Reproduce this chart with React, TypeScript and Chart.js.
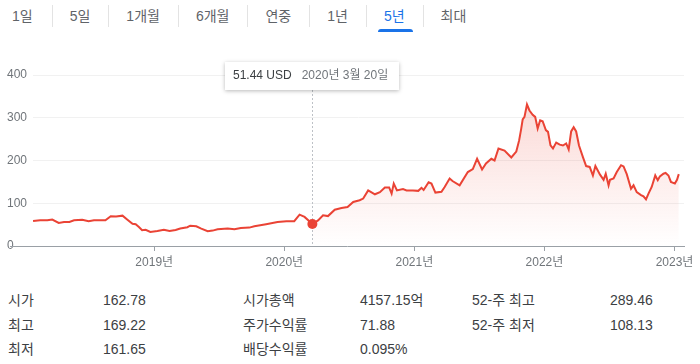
import React, { useEffect, useRef } from "react";
import { Chart, registerables } from "chart.js";

Chart.register(...registerables);

const FONT = "'Liberation Sans', Arial, 'Noto Sans CJK KR', sans-serif";

const tabs = ["1일", "5일", "1개월", "6개월", "연중", "1년", "5년", "최대"];
const activeTab = "5년";

const dates = [
  "2018-01-26", "2018-02-15", "2018-03-07", "2018-03-21", "2018-04-08", "2018-04-23", "2018-05-08", "2018-05-21",
  "2018-06-13", "2018-07-01", "2018-07-16", "2018-07-31", "2018-08-17", "2018-09-01", "2018-09-16", "2018-10-04",
  "2018-10-17", "2018-11-01", "2018-11-10", "2018-11-19", "2018-11-28", "2018-12-08", "2018-12-21", "2019-01-10",
  "2019-01-28", "2019-02-13", "2019-03-02", "2019-03-15", "2019-04-04", "2019-04-12", "2019-04-29", "2019-05-13",
  "2019-05-31", "2019-06-14", "2019-06-28", "2019-07-26", "2019-08-14", "2019-09-01", "2019-09-25", "2019-10-09",
  "2019-11-11", "2019-12-13", "2020-01-07", "2020-01-29", "2020-02-13", "2020-02-27", "2020-03-20", "2020-04-05",
  "2020-04-19", "2020-05-03", "2020-05-22", "2020-06-10", "2020-06-27", "2020-07-13", "2020-07-31", "2020-08-10",
  "2020-08-24", "2020-09-12", "2020-09-26", "2020-10-10", "2020-10-22", "2020-10-29", "2020-11-04", "2020-11-13",
  "2020-11-30", "2020-12-10", "2020-12-28", "2021-01-12", "2021-01-21", "2021-01-27", "2021-02-10", "2021-02-18",
  "2021-03-01", "2021-03-18", "2021-03-27", "2021-04-10", "2021-04-18", "2021-05-08", "2021-05-31", "2021-06-14",
  "2021-06-26", "2021-07-10", "2021-07-21", "2021-08-05", "2021-08-14", "2021-08-25", "2021-09-11", "2021-09-30",
  "2021-10-14", "2021-10-22", "2021-10-28", "2021-11-01", "2021-11-06", "2021-11-13", "2021-11-20", "2021-11-29",
  "2021-12-06", "2021-12-13", "2021-12-20", "2021-12-27", "2022-01-05", "2022-01-11", "2022-01-18", "2022-01-25",
  "2022-02-03", "2022-02-13", "2022-02-22", "2022-03-03", "2022-03-10", "2022-03-17", "2022-03-24", "2022-03-31",
  "2022-04-08", "2022-04-19", "2022-04-28", "2022-05-08", "2022-05-17", "2022-05-24", "2022-06-06", "2022-06-16",
  "2022-06-22", "2022-06-30", "2022-07-04", "2022-07-14", "2022-07-23", "2022-08-04", "2022-08-11", "2022-08-20",
  "2022-09-01", "2022-09-08", "2022-09-17", "2022-09-29", "2022-10-06", "2022-10-13", "2022-10-20", "2022-10-29",
  "2022-11-08", "2022-11-15", "2022-11-21", "2022-12-01", "2022-12-07", "2022-12-15", "2022-12-22", "2023-01-02",
  "2023-01-08", "2023-01-13",
];

const closes = [
  58.5, 60, 60, 62, 54, 56, 56, 60,
  61.5, 58, 60, 60, 60, 69.5, 69, 71,
  62, 52, 51, 44.5, 37, 38, 33, 35,
  38, 35, 37.5, 41, 44, 47.5, 46, 40.7,
  34.4, 36, 39, 41, 39, 42, 43, 46,
  50.8, 56, 58, 58, 73.4, 68, 51.44, 60,
  72, 70, 85, 89, 91, 103, 107, 111,
  130, 121, 126, 137, 137, 122.5, 146, 130,
  133, 130, 130, 129, 136, 131, 149, 146,
  125, 127, 138, 158, 152, 142, 173, 180,
  204, 179, 193, 204, 200, 228, 223, 207,
  221, 247, 275, 296, 302, 331, 317, 307,
  302, 275, 294, 292, 271, 267, 235.5, 228,
  242, 237, 235, 240, 226, 268, 278, 268,
  235, 208, 187, 185, 165, 187, 167, 155,
  169, 142, 155, 158, 173, 189, 186, 168,
  134, 142, 126, 119, 116, 109, 122.5, 138,
  165, 154, 163, 169, 171, 165, 150, 146,
  155, 168,
];

const yearTicks = [2019, 2020, 2021, 2022, 2023];
const yearSuffix = "년";
const xMin = 2018.068;
const xMax = 2023.073;
const yMin = 0;
const yMax = 400;
const yStep = 100;

const hoverDate = "2020-03-20";
const hoverPrice = "51.44 USD";
const hoverLabel = "2020년 3월 20일";

const statLabels1 = ["시가", "최고", "최저"];
const statValues1 = ["162.78", "169.22", "161.65"];
const statLabels2 = ["시가총액", "주가수익률", "배당수익률"];
const statValues2 = ["4157.15억", "71.88", "0.095%"];
const statLabels3 = ["52-주 최고", "52-주 최저"];
const statValues3 = ["289.46", "108.13"];

const LINE = "#ea4335";

function toYear(d: string): number {
  const [y, m, dd] = d.split("-").map(Number);
  const s = Date.UTC(y, 0, 1);
  const e = Date.UTC(y + 1, 0, 1);
  return y + (Date.UTC(y, m - 1, dd) - s) / (e - s);
}

export default function App() {
  const ref = useRef<HTMLCanvasElement | null>(null);

  useEffect(() => {
    if (!ref.current) return;
    const pts = dates.map((d, i) => ({ x: toYear(d), y: closes[i] }));
    const hoverIdx = dates.indexOf(hoverDate);
    const fillPts = pts.map((p, i) => (i >= hoverIdx ? p : { x: p.x, y: null as any }));

    const overlay = {
      id: "overlay",
      beforeDatasetsDraw(chart: any) {
        const { ctx, chartArea, scales } = chart;
        const y = scales.y;
        const y0 = Math.round(y.getPixelForValue(0)) + 0.5;
        ctx.save();
        ctx.strokeStyle = "#9aa0a6";
        ctx.lineWidth = 1;
        ctx.beginPath();
        ctx.moveTo(y.left + 3, y0);
        ctx.lineTo(chartArea.right + 1, y0);
        ctx.stroke();
        const pt = chart.getDatasetMeta(0).data[hoverIdx];
        if (pt) {
          const px = Math.round(pt.x) + 0.5;
          ctx.setLineDash([2, 2]);
          ctx.strokeStyle = "#bdc1c6";
          ctx.beginPath();
          ctx.moveTo(px, chartArea.top - 13 + 28);
          ctx.lineTo(px, chartArea.bottom);
          ctx.stroke();
        }
        ctx.restore();
      },
      afterDraw(chart: any) {
        const { ctx, chartArea } = chart;
        const pt = chart.getDatasetMeta(0).data[hoverIdx];
        if (!pt) return;
        ctx.save();
        ctx.font = `12px ${FONT}`;
        const w1 = ctx.measureText(hoverPrice).width;
        const w2 = ctx.measureText(hoverLabel).width;
        const padL = 8;
        const padR = 11;
        const gap = 10;
        const boxW = Math.round(w1 + gap + w2 + padL + padR);
        const boxH = 28;
        const top = chartArea.top - 13;
        const left = Math.round(pt.x - boxW / 2);
        ctx.shadowColor = "rgba(0,0,0,0.28)";
        ctx.shadowBlur = 4;
        ctx.shadowOffsetY = 1;
        ctx.fillStyle = "#ffffff";
        ctx.fillRect(left, top, boxW, boxH);
        ctx.shadowColor = "transparent";
        ctx.textBaseline = "middle";
        ctx.fillStyle = "#3c4043";
        ctx.fillText(hoverPrice, left + padL, top + boxH / 2);
        ctx.fillStyle = "#70757a";
        ctx.fillText(hoverLabel, left + padL + w1 + gap, top + boxH / 2);
        ctx.restore();
      },
    };

    const chart = new Chart(ref.current, {
      type: "line",
      data: {
        datasets: [
          {
            data: pts,
            borderColor: LINE,
            borderWidth: 2,
            pointRadius: (c: any) => (c.dataIndex === hoverIdx ? 5 : 0),
            pointBackgroundColor: LINE,
            pointBorderWidth: 0,
            pointHoverRadius: 0,
            tension: 0,
            fill: false,
          },
          {
            data: fillPts,
            borderWidth: 0,
            pointRadius: 0,
            fill: "origin",
            spanGaps: false,
            backgroundColor: (c: any) => {
              const a = c.chart.chartArea;
              if (!a) return "rgba(234,67,53,0.1)";
              const g = c.chart.ctx.createLinearGradient(0, a.top, 0, a.bottom);
              g.addColorStop(0, "rgba(234,67,53,0.24)");
              g.addColorStop(1, "rgba(234,67,53,0.0)");
              return g;
            },
          },
        ],
      } as any,
      options: {
        responsive: false,
        animation: false,
        devicePixelRatio: 1,
        events: [],
        layout: { padding: { top: 35, left: 7, right: 16, bottom: 0 } },
        plugins: { legend: { display: false }, tooltip: { enabled: false } },
        scales: {
          x: {
            type: "linear",
            min: xMin,
            max: xMax,
            afterBuildTicks: (s: any) => {
              s.ticks = yearTicks.map((v) => ({ value: v }));
            },
            afterFit: (s: any) => {
              s.height = 34;
            },
            grid: { drawOnChartArea: false, drawTicks: true, tickLength: 5, color: "#9aa0a6" },
            border: { display: false },
            ticks: {
              padding: 4,
              color: "#70757a",
              font: { family: FONT, size: 12 },
              maxRotation: 0,
              autoSkip: false,
              callback: (v: any) => `${v}${yearSuffix}`,
            },
          },
          y: {
            min: yMin,
            max: yMax,
            afterFit: (s: any) => {
              s.width = 26;
            },
            ticks: {
              stepSize: yStep,
              crossAlign: "far",
              padding: 0,
              color: "#70757a",
              font: { family: FONT, size: 12 },
            },
            grid: {
              color: (c: any) => (c.tick && c.tick.value === 0 ? "rgba(0,0,0,0)" : "#f1f1f1"),
              drawTicks: false,
            },
            border: { display: false },
          },
        },
      } as any,
      plugins: [overlay],
    });
    return () => chart.destroy();
  }, []);

  const statCell = (text: string, left: number, row: number, key: string) => (
    <div
      key={key}
      style={{
        position: "absolute",
        left,
        top: 290 + row * 24.5,
        height: 20,
        lineHeight: "20px",
        fontSize: 14,
        color: "#3c4043",
        whiteSpace: "nowrap",
      }}
    >
      {text}
    </div>
  );

  return (
    <div
      style={{
        position: "fixed",
        left: 0,
        top: 0,
        width: 700,
        height: 364,
        background: "#fff",
        overflow: "hidden",
        fontFamily: FONT,
      }}
    >
      <div style={{ position: "absolute", left: 0, top: 0, height: 32, display: "flex", alignItems: "center" }}>
        {tabs.map((t, i) => (
          <React.Fragment key={t}>
            {i > 0 && <div style={{ width: 1, height: 22, background: "#e3e3e3" }} />}
            <div
              style={{
                position: "relative",
                padding: i === 0 ? "0 19px 0 12px" : "0 18px 0 17px",
                fontSize: 14,
                lineHeight: "32px",
                color: t === activeTab ? "#1a73e8" : "#5f6368",
                whiteSpace: "nowrap",
              }}
            >
              {t}
              {t === activeTab && (
                <div
                  style={{
                    position: "absolute",
                    left: "50%",
                    marginLeft: -17,
                    width: 35,
                    height: 3,
                    bottom: 0,
                    background: "#1a73e8",
                    borderRadius: "3px 3px 0 0",
                  }}
                />
              )}
            </div>
          </React.Fragment>
        ))}
      </div>
      <canvas ref={ref} width={700} height={240} style={{ position: "absolute", left: 0, top: 40, width: 700, height: 240 }} />
      {statLabels1.map((t, i) => statCell(t, 8, i, "l1" + i))}
      {statValues1.map((t, i) => statCell(t, 103, i, "v1" + i))}
      {statLabels2.map((t, i) => statCell(t, 243, i, "l2" + i))}
      {statValues2.map((t, i) => statCell(t, 360, i, "v2" + i))}
      {statLabels3.map((t, i) => statCell(t, 472, i, "l3" + i))}
      {statValues3.map((t, i) => statCell(t, 610, i, "v3" + i))}
    </div>
  );
}
